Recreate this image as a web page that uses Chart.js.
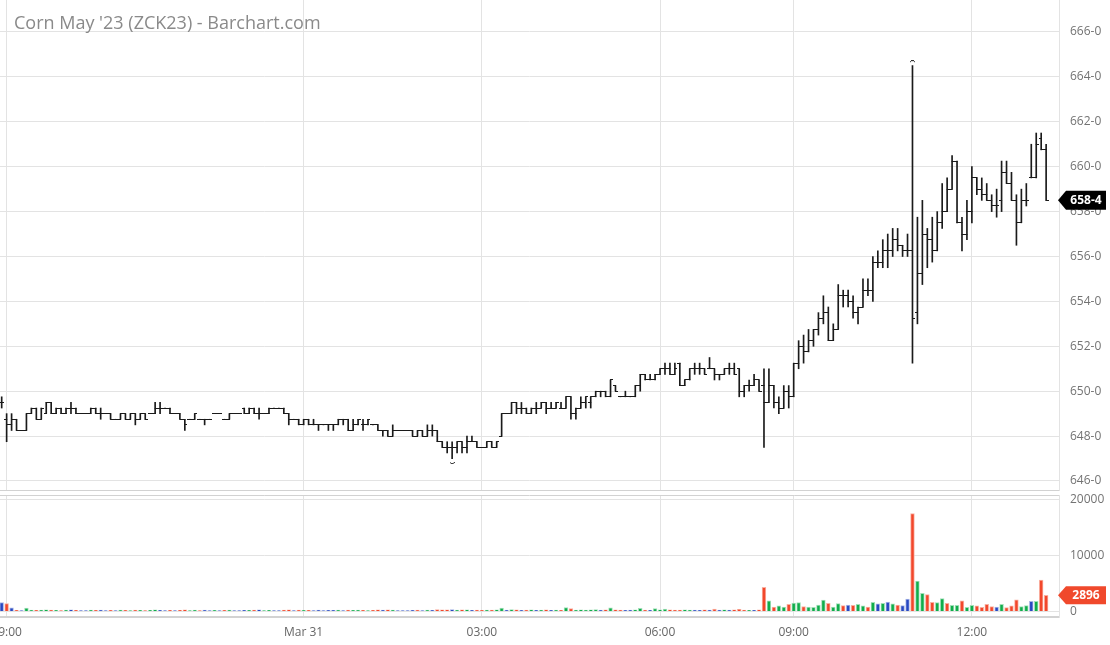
<!DOCTYPE html>
<html>
<head>
<meta charset="utf-8">
<title>Corn May '23 (ZCK23) - Barchart.com</title>
<script src="https://cdn.jsdelivr.net/npm/chart.js@4.4.1/dist/chart.umd.min.js"></script>
<style>
  html, body { margin:0; padding:0; background:#fff; }
  #wrap { position:relative; width:1110px; height:645px; overflow:hidden; background:#fff; }
  #priceCanvas { position:absolute; left:0; top:0; }
  #volCanvas { position:absolute; left:0; top:491px; }
  #title { position:absolute; left:14px; top:10px; font-family:'Open Sans', sans-serif; font-size:18px; line-height:24px; color:#8a8a8a; white-space:nowrap; }
</style>
</head>
<body>
<div id="wrap">
  <canvas id="priceCanvas" width="1110" height="491"></canvas>
  <canvas id="volCanvas" width="1110" height="154"></canvas>
  <div id="title">Corn May '23 (ZCK23) - Barchart.com</div>
</div>
<script>
// ---------------- DATA ----------------
// 5-minute bars (time of bar start, CT)
const times = (
  "13:15 " +
  "19:00 19:05 19:10 19:15 19:20 19:25 19:30 19:35 19:40 19:45 19:50 19:55 " +
  "20:00 20:05 20:10 20:15 20:20 20:25 20:30 20:35 20:40 20:45 20:50 20:55 " +
  "21:00 21:05 21:10 21:15 21:20 21:25 21:30 21:35 21:40 21:45 21:50 21:55 " +
  "22:00 22:05 22:10 22:15 22:20 22:25 22:30 22:35 22:40 22:45 22:50 22:55 " +
  "23:00 23:05 23:10 23:15 23:20 23:25 23:30 23:35 23:40 23:45 23:50 23:55 " +
  "00:00 00:05 00:10 00:15 00:20 00:25 00:30 00:35 00:40 00:45 00:50 00:55 " +
  "01:00 01:05 01:10 01:15 01:20 01:25 01:30 01:35 01:40 01:45 01:50 01:55 " +
  "02:00 02:05 02:10 02:15 02:20 02:25 02:30 02:35 02:40 02:45 02:50 02:55 " +
  "03:00 03:05 03:10 03:15 03:20 03:25 03:30 03:35 03:40 03:45 03:50 03:55 " +
  "04:00 04:05 04:10 04:15 04:20 04:25 04:30 04:35 04:40 04:45 04:50 04:55 " +
  "05:00 05:05 05:10 05:15 05:20 05:25 05:30 05:35 05:40 05:45 05:50 05:55 " +
  "06:00 06:05 06:10 06:15 06:20 06:25 06:30 06:35 06:40 06:45 06:50 06:55 " +
  "07:00 07:05 07:10 07:15 07:20 07:25 07:30 07:35 07:40 " +
  "08:30 08:35 08:40 08:45 08:50 08:55 " +
  "09:00 09:05 09:10 09:15 09:20 09:25 09:30 09:35 09:40 09:45 09:50 09:55 " +
  "10:00 10:05 10:10 10:15 10:20 10:25 10:30 10:35 10:40 10:45 10:50 10:55 " +
  "11:00 11:05 11:10 11:15 11:20 11:25 11:30 11:35 11:40 11:45 11:50 11:55 " +
  "12:00 12:05 12:10 12:15 12:20 12:25 12:30 12:35 12:40 12:45 12:50 12:55 " +
  "13:00 13:05 13:10 13:15"
).split(" ");

const open = [
  649.5,648.75,648.5,648.75,648.25,648.25,649.0,649.25,648.75,649.0,
  649.5,649.0,649.25,649.0,649.25,649.25,649.0,649.0,649.0,649.25,
  649.0,649.0,649.0,648.75,648.75,649.0,648.75,649.0,648.75,649.0,
  649.0,649.0,649.25,649.25,649.25,649.0,649.0,648.75,648.75,648.75,
  648.75,648.75,648.75,649.0,649.0,648.75,648.75,649.0,649.0,649.25,
  649.0,649.25,649.0,649.0,649.0,649.25,649.25,649.25,649.0,648.75,
  648.75,648.5,648.75,648.5,648.5,648.5,648.5,648.5,648.5,648.75,
  648.75,648.25,648.5,648.5,648.5,648.5,648.5,648.25,648.25,648.0,
  648.25,648.25,648.25,648.25,648.0,648.25,648.0,648.25,648.25,647.75,
  647.5,647.5,647.5,647.75,647.5,647.75,647.75,647.5,647.5,647.75,
  647.5,648.0,649.0,649.0,649.5,649.25,649.25,649.0,649.25,649.25,
  649.5,649.25,649.25,649.25,649.25,649.75,649.0,649.25,649.5,649.5,
  649.75,650.0,650.0,649.75,650.25,649.75,649.75,649.75,649.75,650.25,
  650.75,650.5,650.5,650.75,651.0,651.0,650.75,651.25,650.25,650.5,
  651.0,651.0,651.0,651.0,651.0,650.75,650.75,651.0,651.0,651.0,
  650.0,650.25,650.25,650.5,650.25,649.5,650.25,649.5,649.25,650.0,
  649.75,651.25,652.0,651.75,652.25,652.75,653.25,653.5,652.25,652.75,
  654.25,654.25,654.0,653.5,653.75,654.5,654.5,655.75,655.75,656.25,
  656.25,656.75,656.5,656.25,656.25,653.5,655.25,657.0,656.75,656.25,
  657.5,658.0,659.0,660.25,657.5,657.0,658.0,659.5,659.0,658.75,
  658.5,658.25,658.5,659.75,659.25,658.5,657.5,658.5,659.5,659.5,
  661.25,660.75
];
const high = [
  649.75,649.0,649.0,648.75,648.25,649.0,649.25,649.25,649.25,649.5,
  649.5,649.25,649.25,649.25,649.5,649.25,649.0,649.0,649.25,649.25,
  649.25,649.0,649.0,648.75,649.0,649.0,649.0,649.0,649.0,649.0,
  649.0,649.5,649.5,649.25,649.25,649.0,649.0,648.75,648.75,649.0,
  648.75,648.75,648.75,649.0,649.0,648.75,649.0,649.0,649.0,649.25,
  649.25,649.25,649.25,649.0,649.25,649.25,649.25,649.25,649.0,648.75,
  648.75,648.75,648.75,648.75,648.5,648.5,648.5,648.5,648.75,648.75,
  648.75,648.75,648.75,648.75,648.75,648.5,648.5,648.25,648.25,648.5,
  648.25,648.25,648.25,648.25,648.25,648.25,648.5,648.5,648.25,647.75,
  647.75,647.75,647.75,647.75,648.0,648.0,647.75,647.5,647.75,647.75,
  647.75,649.0,649.0,649.5,649.5,649.5,649.25,649.25,649.5,649.5,
  649.5,649.5,649.5,649.5,649.75,649.75,649.25,649.75,649.75,649.75,
  650.0,650.0,650.0,650.5,650.25,649.75,650.0,649.75,650.25,650.75,
  650.75,650.75,650.75,651.0,651.25,651.25,651.25,651.25,650.5,651.0,
  651.25,651.25,651.0,651.5,651.0,650.75,651.0,651.25,651.25,651.0,
  650.25,650.5,650.75,650.5,651.0,651.0,650.25,649.75,650.25,650.25,
  651.25,652.25,652.5,652.75,652.75,653.5,654.25,653.75,653.0,654.75,
  654.5,654.5,654.25,653.75,655.0,655.0,656.0,656.25,656.75,657.0,
  657.25,657.25,656.5,657.0,664.5,657.75,658.5,657.25,657.75,658.0,
  659.25,659.5,660.5,660.25,657.75,658.5,660.0,659.5,659.5,659.25,
  658.75,659.0,660.25,660.25,659.75,658.75,659.0,659.25,661.0,661.5,
  661.5,661.0
];
const low = [
  649.25,647.75,648.25,648.25,648.25,648.25,649.0,648.75,648.75,649.0,
  649.0,649.0,649.0,649.0,649.0,649.0,649.0,649.0,649.0,649.0,
  648.75,649.0,648.75,648.75,648.75,648.75,648.75,648.5,648.75,648.75,
  649.0,649.0,649.0,649.25,649.0,649.0,648.75,648.25,648.75,648.75,
  648.75,648.5,648.75,649.0,649.0,648.75,648.75,649.0,649.0,649.0,
  649.0,649.0,648.75,649.0,649.0,649.25,649.25,649.0,648.5,648.75,
  648.5,648.5,648.5,648.5,648.25,648.5,648.25,648.25,648.5,648.5,
  648.25,648.25,648.5,648.25,648.5,648.5,648.25,648.0,648.0,648.0,
  648.25,648.25,648.25,648.0,648.0,648.0,648.0,648.0,647.75,647.5,
  647.25,647.0,647.25,647.25,647.25,647.75,647.5,647.5,647.5,647.5,
  647.5,648.0,649.0,649.0,649.0,649.0,649.0,649.0,649.0,649.25,
  649.0,649.25,649.25,649.25,649.25,648.75,648.75,649.25,649.25,649.25,
  649.75,649.75,649.75,649.75,650.0,649.75,649.75,649.75,649.75,650.0,
  650.5,650.5,650.5,650.75,650.75,650.75,650.75,650.25,650.25,650.5,
  650.75,650.75,650.75,651.0,650.5,650.5,650.75,650.75,650.75,649.75,
  649.75,650.0,650.25,650.0,647.5,649.5,649.25,649.0,649.25,649.25,
  649.75,651.0,651.25,651.75,652.0,652.5,653.0,652.25,652.25,652.75,
  653.75,653.75,653.25,653.0,653.75,654.25,654.0,655.5,655.5,655.5,
  656.0,656.25,656.0,656.0,651.25,653.0,654.75,655.5,655.75,656.25,
  657.25,658.0,659.0,657.5,656.25,656.75,657.5,658.75,658.5,658.5,
  658.0,657.75,658.0,659.25,658.5,656.5,657.5,658.25,659.5,659.5,
  660.75,658.5
];
const close = [
  649.5,648.5,648.75,648.25,648.25,649.0,649.25,648.75,649.25,649.5,
  649.0,649.25,649.0,649.25,649.25,649.0,649.0,649.0,649.25,649.0,
  649.0,649.0,648.75,648.75,649.0,648.75,649.0,648.75,649.0,648.75,
  649.0,649.25,649.25,649.25,649.0,649.0,648.75,648.5,648.75,649.0,
  648.75,648.75,648.75,649.0,649.0,648.75,649.0,649.0,649.0,649.0,
  649.25,649.0,649.0,649.0,649.25,649.25,649.25,649.0,648.75,648.75,
  648.5,648.75,648.5,648.5,648.5,648.5,648.5,648.5,648.75,648.75,
  648.25,648.5,648.75,648.5,648.75,648.5,648.25,648.25,648.0,648.25,
  648.25,648.25,648.25,648.0,648.25,648.0,648.25,648.25,647.75,647.5,
  647.5,647.5,647.75,647.5,647.75,647.75,647.5,647.5,647.75,647.5,
  647.75,649.0,649.0,649.5,649.25,649.25,649.0,649.25,649.25,649.5,
  649.25,649.25,649.5,649.25,649.75,649.0,649.25,649.5,649.75,649.75,
  650.0,650.0,649.75,650.5,650.0,649.75,649.75,649.75,650.25,650.75,
  650.5,650.5,650.75,651.0,651.0,650.75,651.0,650.25,650.5,651.0,
  651.0,651.0,650.75,651.0,650.75,650.75,651.0,651.0,650.75,650.0,
  650.25,650.25,650.5,650.0,649.5,650.25,649.5,649.25,650.0,649.75,
  651.25,652.0,651.75,652.25,652.75,653.25,653.5,652.25,652.75,654.25,
  654.25,654.0,653.5,653.75,654.5,654.5,655.75,655.75,656.25,656.25,
  656.75,656.5,656.25,656.25,653.25,655.25,657.0,656.75,656.25,657.5,
  658.0,659.0,660.25,657.5,657.0,658.0,659.5,659.0,658.75,658.5,
  658.25,658.25,659.75,659.25,658.5,657.5,658.5,658.5,659.5,661.0,
  660.75,658.5
];
const volume = [
  1600,1400,650,200,150,600,250,200,250,300,
  250,200,150,250,300,200,150,150,250,200,
  250,150,200,150,250,200,150,250,200,150,
  200,300,200,150,200,150,200,300,150,250,
  150,250,150,200,150,200,250,150,150,200,
  200,250,300,150,200,150,150,250,300,150,
  250,200,200,150,250,150,200,200,250,150,
  250,200,250,200,150,200,300,250,300,250,
  150,150,150,200,250,150,250,200,350,300,
  300,350,250,300,300,200,250,200,250,250,
  300,600,250,350,300,200,250,300,200,250,
  300,200,250,200,700,500,250,300,250,300,
  350,250,300,650,300,250,200,250,300,550,
  250,200,500,300,450,300,250,250,300,250,
  250,200,300,250,450,250,300,250,300,400,
  250,200,200,300,
  4300,1900,800,1000,800,1300,1500,1600,900,800,
  750,1150,2050,1450,800,1400,1050,1150,1100,1300,
  1000,800,1650,1350,1450,1700,1350,1150,1050,2200,
  17500,5450,3250,3000,1650,1600,2300,1450,1100,1100,
  1900,750,1100,1000,750,1300,900,800,1300,700,
  1000,2100,900,1050,1800,1800,5600,2896
];
// volume bar direction: u = up (green), d = down (red), n = unchanged (blue)
const volDir = [
  "ndndnuuduu","dudundnnud","nndnududud","uunndndduu","dnnundunnn",
  "udnuunnddn","dudnnnnnun","duududdndu","nnnndnundd","dnudunddud",
  "uunudndunu","dnududuuuu","unduddnnuu","dnuuuddduu","nndndnundd",
  "dund",
  "duduuduudu","uuuduudndu","udununudnn","duudduuduu","duuddddnud","dduunudd"
].join("").split("");

const tickTimes  = ["19:00", "00:00", "03:00", "06:00", "09:00", "12:00"];
const tickLabels = ["19:00", "Mar 31", "03:00", "06:00", "09:00", "12:00"];
const priceTicks = [646, 648, 650, 652, 654, 656, 658, 660, 662, 664, 666];
const volTicks   = [0, 10000, 20000];

// ---------------- STYLE / HELPERS ----------------
Chart.defaults.font.family = "'Open Sans', 'DejaVu Sans', sans-serif";
Chart.defaults.font.size = 12;
Chart.defaults.color = '#737373';

const GRID = '#e3e3e3';
const BAR_COLOR = '#1a1a1a';
const AXIS_W = 51;
const X_MIN = -0.34, X_MAX = 213.6;
const VOL_FILL = { u: '#10ad4b', d: '#f2472b', n: '#2748c2' };
const VOL_EDGE = { u: '#a2dfb8', d: '#f9b0a1', n: '#a9b6e6' };

const idx = times.map((t, i) => i);
const tickIdx = tickTimes.map(t => times.indexOf(t));

function fmtPrice(p) {
  const whole = Math.floor(p);
  return whole + '-' + Math.round((p - whole) * 8);
}

function makeTick(side) {
  const c = document.createElement('canvas');
  c.width = 5; c.height = 1;
  const g = c.getContext('2d');
  g.fillStyle = BAR_COLOR;
  g.fillRect(side === 'left' ? 0 : 2, 0, 3, 1);
  return c;
}
function makeMark(top) {
  const c = document.createElement('canvas');
  c.width = 5; c.height = 11;
  const g = c.getContext('2d');
  g.fillStyle = '#333';
  if (top) { g.fillRect(1, 0, 3, 1); g.fillRect(0, 1, 1, 1); g.fillRect(4, 1, 1, 1); }
  else { g.fillRect(0, 9, 1, 1); g.fillRect(4, 9, 1, 1); g.fillRect(1, 10, 3, 1); }
  return c;
}

function xAxis(showLabels) {
  return {
    type: 'linear', min: X_MIN, max: X_MAX, offset: false,
    grid: { color: GRID, lineWidth: 1, drawTicks: false, offset: false },
    border: { display: true, color: '#d2d2d2', width: showLabels ? 2 : 1 },
    ticks: {
      display: showLabels, autoSkip: false, maxRotation: 0, minRotation: 0, padding: 8,
      color: '#666',
      callback: (v) => { const k = tickIdx.indexOf(v); return k >= 0 ? tickLabels[k] : ''; }
    },
    afterBuildTicks: s => { s.ticks = tickIdx.map(v => ({ value: v })); },
    afterFit: s => { s.paddingLeft = 0; s.paddingRight = 0; s.height = showLabels ? 28 : 0; }
  };
}

const lastLabel = {
  id: 'lastLabel',
  afterDraw(chart, args, o) {
    const { ctx, chartArea, scales } = chart;
    const y = scales.y.getPixelForValue(o.value);
    const x0 = chartArea.right - 1;
    const h = o.h;
    ctx.save();
    ctx.fillStyle = o.bg;
    ctx.beginPath();
    ctx.moveTo(x0, y);
    ctx.lineTo(x0 + 8, y - h / 2);
    ctx.lineTo(chart.width - 4, y - h / 2);
    ctx.lineTo(chart.width - 4, y + h / 2);
    ctx.lineTo(x0 + 8, y + h / 2);
    ctx.closePath();
    ctx.fill();
    ctx.fillStyle = '#fff';
    ctx.font = "bold 12px 'Open Sans', sans-serif";
    ctx.textAlign = 'center';
    ctx.textBaseline = 'middle';
    ctx.fillText(o.text, (x0 + 8 + chart.width - 4) / 2, y + 0.5);
    ctx.restore();
  }
};
const panelTop = {
  id: 'panelTop',
  afterDraw(chart) {
    const { ctx, chartArea } = chart;
    ctx.save();
    ctx.strokeStyle = '#d2d2d2';
    ctx.lineWidth = 1;
    ctx.beginPath();
    ctx.moveTo(0, chartArea.top + 0.5);
    ctx.lineTo(chartArea.right, chartArea.top + 0.5);
    ctx.stroke();
    ctx.restore();
  }
};

const last = times.length - 1;
const hiIdx = high.indexOf(Math.max(...high));
const loIdx = low.indexOf(Math.min(...low));

const pointOpts = { pointRadius: 1, pointHoverRadius: 0, pointBorderWidth: 0, pointHitRadius: 0 };

// ---------------- PRICE CHART ----------------
new Chart(document.getElementById('priceCanvas'), {
  type: 'bar',
  data: {
    datasets: [
      { label: 'High-Low', data: idx.map(i => ({ x: i, y: [low[i], high[i]] })),
        backgroundColor: BAR_COLOR, borderWidth: 0, barThickness: 1, order: 3 },
      Object.assign({ type: 'scatter', label: 'Open', data: idx.map(i => ({ x: i, y: open[i] })),
        pointStyle: makeTick('left'), order: 1 }, pointOpts),
      Object.assign({ type: 'scatter', label: 'Close', data: idx.map(i => ({ x: i, y: close[i] })),
        pointStyle: makeTick('right'), order: 1 }, pointOpts),
      Object.assign({ type: 'scatter', label: 'High mark', data: [{ x: hiIdx, y: high[hiIdx] }],
        pointStyle: makeMark(true), order: 0 }, pointOpts),
      Object.assign({ type: 'scatter', label: 'Low mark', data: [{ x: loIdx, y: low[loIdx] }],
        pointStyle: makeMark(false), order: 0 }, pointOpts)
    ]
  },
  options: {
    responsive: false, animation: false, events: [],
    layout: { autoPadding: false, padding: { left: 0, right: 0, top: 0, bottom: 1 } },
    plugins: {
      legend: { display: false }, tooltip: { enabled: false },
      lastLabel: { value: close[last], text: fmtPrice(close[last]), bg: '#000', h: 19 }
    },
    scales: {
      x: xAxis(false),
      y: {
        position: 'right', min: 645.599, max: 667.425,
        grid: { color: GRID, lineWidth: 1, drawTicks: false },
        border: { display: true, color: GRID },
        ticks: { padding: 11, callback: v => fmtPrice(v) },
        afterBuildTicks: s => { s.ticks = priceTicks.map(v => ({ value: v })); },
        afterFit: s => { s.width = AXIS_W; s.paddingTop = 0; s.paddingBottom = 0; }
      }
    }
  },
  plugins: [lastLabel]
});

// ---------------- VOLUME CHART ----------------
new Chart(document.getElementById('volCanvas'), {
  type: 'bar',
  data: {
    datasets: [{
      label: 'Volume', data: idx.map(i => ({ x: i, y: volume[i] })),
      backgroundColor: idx.map(i => VOL_FILL[volDir[i]]),
      borderColor: idx.map(i => VOL_EDGE[volDir[i]]),
      borderWidth: 1, barThickness: 3.8
    }]
  },
  options: {
    responsive: false, animation: false, events: [],
    layout: { autoPadding: false, padding: { left: 0, right: 0, top: 4, bottom: 0 } },
    plugins: {
      legend: { display: false }, tooltip: { enabled: false },
      lastLabel: { value: volume[last], text: String(volume[last]), bg: '#f0492c', h: 18 }
    },
    scales: {
      x: xAxis(true),
      y: {
        position: 'right', min: -982, max: 20804,
        grid: { color: GRID, lineWidth: 1, drawTicks: false },
        border: { display: true, color: GRID },
        ticks: { padding: 11, callback: v => String(v) },
        afterBuildTicks: s => { s.ticks = volTicks.map(v => ({ value: v })); },
        afterFit: s => { s.width = AXIS_W; s.paddingTop = 0; s.paddingBottom = 0; }
      }
    }
  },
  plugins: [lastLabel, panelTop]
});
</script>
</body>
</html>
